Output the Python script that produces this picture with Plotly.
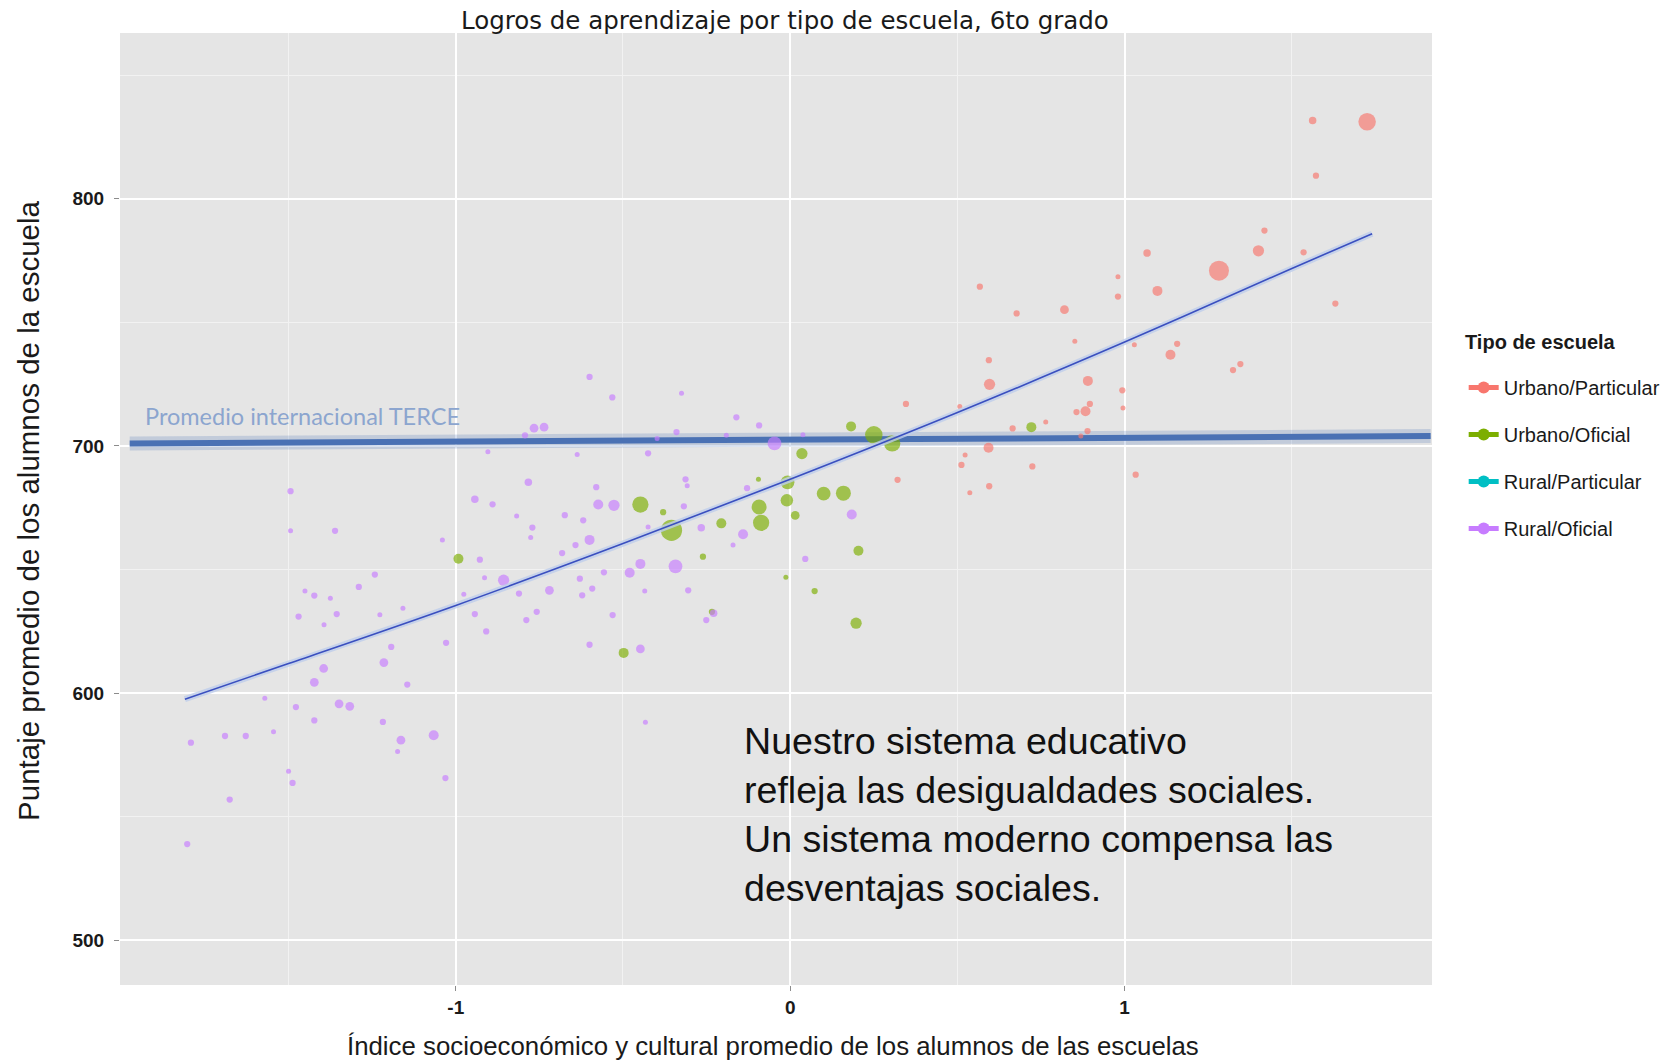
import plotly.graph_objects as go

# ---------------- data ----------------
categories = ["Urbano/Particular", "Urbano/Oficial", "Rural/Particular", "Rural/Oficial"]
cat_colors = ["#F8766D", "#7CAE00", "#00BFC4", "#C77CFF"]

# Urbano/Particular
up_x = [1.562, 1.725, 1.572, 1.418, 1.400, 1.535, 1.067, 1.282, 0.980, 1.098, 0.980, 0.567,
        0.820, 0.677, 1.630, 0.851, 1.029, 1.157, 1.137, 1.346, 1.324, 0.594, 0.596, 0.890,
        0.993, 0.346, 0.507, 0.896, 0.883, 0.856, 0.995, 0.764, 0.665, 0.889, 0.869, 0.593,
        0.523, 0.512, 0.724, 0.321, 0.595, 0.537, 1.033]
up_y = [831.6, 831.1, 809.3, 787.1, 778.9, 778.3, 778.0, 770.9, 768.4, 762.7, 760.4, 764.4,
        755.1, 753.6, 757.6, 742.3, 740.9, 741.3, 736.9, 733.1, 730.7, 734.7, 724.9, 726.3,
        722.5, 717.0, 716.0, 717.0, 714.0, 713.7, 715.3, 709.7, 707.1, 706.0, 704.0, 699.3,
        696.3, 692.3, 691.7, 686.3, 683.7, 681.1, 688.4]
up_n = [6, 14, 5, 5, 9, 5, 6, 16, 4, 8, 5, 5,
        7, 5, 5, 4, 4, 5, 8, 5, 5, 5, 9, 8,
        5, 5, 4, 5, 8, 5, 4, 4, 5, 5, 4, 8,
        4, 5, 5, 5, 5, 4, 5]

# Urbano/Oficial
uo_x = [-0.992, 0.182, 0.250, 0.305, 0.035, -0.008, -0.095, 0.100, 0.159, -0.010, 0.015,
        -0.093, -0.087, -0.206, -0.448, -0.380, -0.355, -0.261, -0.013, 0.073, 0.204, 0.197,
        -0.498, -0.234, 0.721]
uo_y = [654.4, 707.9, 704.5, 701.0, 696.9, 685.3, 686.5, 680.7, 680.9, 678.0, 671.9,
        675.3, 668.9, 668.7, 676.3, 673.2, 665.9, 655.2, 646.9, 641.3, 657.6, 628.3,
        616.3, 632.9, 707.6]
uo_n = [8, 8, 14, 13, 9, 11, 4, 11, 12, 10, 7,
        12, 13, 8, 13, 5, 17, 5, 4, 5, 8, 9,
        8, 5, 8]

# Rural/Particular (no schools shown)
rp_x = []
rp_y = []
rp_n = []

# Rural/Oficial
ro_x = [-0.904, -1.494, -0.943, -0.890, -0.818, -1.494, -1.361, -1.040, -0.928, -0.857,
        -0.914, -1.242, -1.290, -1.451, -1.423, -1.375, -1.470, -1.356, -1.394, -1.227,
        -1.158, -0.976, -0.943, -0.909, -1.029, -1.193, -1.215, -1.395, -1.423, -1.145,
        -1.571, -1.478, -1.349, -1.317, -1.423, -1.218, -1.545, -1.690, -1.628, -1.792,
        -1.164, -1.066, -1.174, -1.500, -1.488, -1.031, -1.676, -1.803,
        -0.600, -0.532, -0.325, -0.161, -0.093, -0.340, -0.766, -0.736, -0.793, -0.398,
        -0.191, 0.038, -0.637, -0.425, -0.047, -0.783, -0.580, -0.313, -0.308, -0.129,
        -0.574, -0.527, -0.318, -0.674, -0.619, -0.771, -0.776, -0.425, -0.266,
        -0.141, -0.171, 0.184, -0.600, -0.642, -0.682, -0.448, -0.343, -0.480, -0.557,
        -0.629, -0.592, -0.720, -0.811, -0.622, -0.305, -0.435, -0.758, -0.789, -0.531,
        -0.229, -0.251, 0.045, -0.600, -0.448, -0.433]
ro_y = [697.7, 681.7, 678.4, 676.4, 671.7, 665.7, 665.7, 662.0, 654.0, 645.7,
        646.7, 648.0, 643.0, 641.3, 639.5, 638.4, 631.0, 632.0, 627.7, 631.7,
        634.4, 640.0, 632.0, 625.0, 620.4, 618.7, 612.4, 610.0, 604.4, 603.5,
        598.0, 594.4, 595.7, 594.7, 589.0, 588.4, 584.4, 582.7, 582.7, 580.0,
        581.0, 583.0, 576.4, 568.4, 563.7, 565.7, 557.0, 539.0,
        727.9, 719.6, 721.3, 711.6, 708.3, 705.6, 707.2, 707.6, 704.3, 703.0,
        704.3, 704.5, 696.5, 697.0, 701.0, 685.3, 683.3, 686.5, 683.9, 682.9,
        676.3, 676.0, 675.6, 672.0, 669.9, 667.0, 663.0, 667.2, 666.9,
        664.3, 659.9, 672.3, 662.0, 659.9, 656.7, 652.3, 651.3, 648.7, 648.9,
        646.3, 642.3, 641.6, 640.3, 639.6, 641.6, 641.3, 632.9, 629.6, 631.6,
        632.3, 629.6, 654.3, 619.6, 617.9, 588.3]
ro_n = [4, 5, 6, 5, 4, 4, 5, 4, 5, 9,
        4, 5, 5, 4, 5, 4, 5, 5, 4, 4,
        4, 4, 5, 5, 5, 5, 7, 7, 7, 5,
        4, 5, 7, 7, 5, 5, 4, 5, 5, 5,
        7, 8, 4, 4, 5, 5, 5, 5,
        5, 5, 4, 5, 5, 5, 7, 7, 5, 4,
        4, 4, 4, 5, 11, 6, 5, 5, 4, 5,
        8, 9, 5, 5, 5, 5, 4, 4, 6,
        8, 4, 8, 8, 5, 5, 8, 11, 8, 5,
        5, 5, 7, 5, 5, 5, 4, 5, 5, 5,
        6, 5, 5, 5, 7, 4]

# loess trend
smooth_x = [-1.81, -1.5, -1.0, -0.5, 0.0, 0.5, 1.0, 1.5, 1.74]
smooth_y = [597.6, 612.0, 635.5, 660.5, 686.5, 713.5, 742.0, 771.8, 785.8]

# international TERCE average line
terce_x = [-1.975, 1.915]
terce_y = [701.0, 704.0]
terce_label = "Promedio internacional TERCE"

x_ticks = [-1, 0, 1]
x_ticktext = ["-1", "0", "1"]
x_minor = [-1.5, -0.5, 0.5, 1.5]
y_ticks = [500, 600, 700, 800]
y_ticktext = ["500", "600", "700", "800"]
y_minor = [550, 650, 750, 850]

title_text = "Logros de aprendizaje por tipo de escuela, 6to grado"
x_title = "Índice socioeconómico y cultural promedio de los alumnos de las escuelas"
y_title = "Puntaje promedio de los alumnos de la escuela"
legend_title = "Tipo de escuela"
note_lines = ["Nuestro sistema educativo",
              "refleja las desigualdades sociales.",
              "Un sistema moderno compensa las",
              "desventajas sociales."]

# ---------------- figure ----------------
W, H = 1677, 1064
L, R, T, B = 120, 232, 33, 79
plot_w = W - L - R
plot_h = H - T - B
SIZE_SCALE = 1.25


def px(sx):
    """window x pixel -> paper x"""
    return (sx - L) / plot_w


def py(sy):
    """window y pixel -> paper y"""
    return (H - B - sy) / plot_h


fig = go.Figure()

# TERCE line (glow + line)
fig.add_trace(go.Scatter(x=terce_x, y=terce_y, mode="lines",
                         line=dict(color="rgba(74,114,181,0.22)", width=14),
                         showlegend=False, hoverinfo="skip"))
fig.add_trace(go.Scatter(x=terce_x, y=terce_y, mode="lines",
                         line=dict(color="#4A71B4", width=6),
                         showlegend=False, hoverinfo="skip"))

series = [(up_x, up_y, up_n, cat_colors[0]),
          (uo_x, uo_y, uo_n, cat_colors[1]),
          (rp_x, rp_y, rp_n, cat_colors[2]),
          (ro_x, ro_y, ro_n, cat_colors[3])]
for (xs, ys, ns, col), name in zip(series, categories):
    fig.add_trace(go.Scatter(x=xs, y=ys, mode="markers", name=name,
                             marker=dict(size=[n * SIZE_SCALE for n in ns], color=col,
                                         opacity=0.66, line=dict(width=0)),
                             showlegend=False))

# smooth trend (band + line)
fig.add_trace(go.Scatter(x=smooth_x, y=smooth_y, mode="lines", line_shape="spline",
                         line=dict(color="rgba(190,205,235,0.8)", width=6),
                         showlegend=False, hoverinfo="skip"))
fig.add_trace(go.Scatter(x=smooth_x, y=smooth_y, mode="lines", line_shape="spline",
                         line=dict(color="#3A4FBF", width=1.6),
                         showlegend=False, hoverinfo="skip"))

# legend entries
for name, col in zip(categories, cat_colors):
    fig.add_trace(go.Scatter(x=[None], y=[None], mode="lines+markers", name=name,
                             legendgroup=name,
                             line=dict(color=col, width=2),
                             marker=dict(color=col, size=7)))

axis_font = dict(family="Liberation Sans", size=19, color="#1a1a1a", weight="bold")

fig.update_layout(
    width=W, height=H,
    margin=dict(l=L, r=R, t=T, b=B),
    paper_bgcolor="white", plot_bgcolor="#E5E5E5",
    hovermode=False,
    title=dict(text=title_text, x=px(791.5), xref="paper", xanchor="center",
               y=1 - 20 / H, yref="container", yanchor="middle",
               font=dict(family="DejaVu Sans", size=24.5, color="#1a1a1a")),
    xaxis=dict(range=[-2.004, 1.919], tickmode="array", tickvals=x_ticks, ticktext=x_ticktext,
               showgrid=True, gridcolor="white", gridwidth=1.6, zeroline=False,
               ticks="outside", ticklen=5, tickcolor="#8c8c8c", tickwidth=1,
               tickfont=axis_font, showline=False,
               minor=dict(tickmode="array", tickvals=x_minor, showgrid=True,
                          gridcolor="#F2F2F2", gridwidth=0.8, ticks="")),
    yaxis=dict(range=[482, 867], tickmode="array", tickvals=y_ticks, ticktext=y_ticktext,
               showgrid=True, gridcolor="white", gridwidth=1.6, zeroline=False,
               ticks="outside", ticklen=5, tickcolor="#8c8c8c", tickwidth=1,
               tickfont=axis_font, ticklabelstandoff=6, showline=False,
               minor=dict(tickmode="array", tickvals=y_minor, showgrid=True,
                          gridcolor="#F2F2F2", gridwidth=0.8, ticks="")),
    legend=dict(x=px(1477), xanchor="left",
                y=py(368), yanchor="top",
                font=dict(family="Liberation Sans", size=20, color="#1a1a1a"),
                tracegroupgap=18, bgcolor="rgba(0,0,0,0)", itemsizing="constant"),
    showlegend=True,
)

fig.add_annotation(text="<b>" + legend_title + "</b>", x=px(1476), y=py(341.7),
                   xref="paper", yref="paper",
                   xanchor="left", yanchor="middle", showarrow=False,
                   font=dict(family="Liberation Sans", size=20, color="#1a1a1a"))
fig.add_annotation(text=terce_label, x=-1.935, y=712.1, xref="x", yref="y",
                   xanchor="left", yanchor="middle", showarrow=False,
                   font=dict(family="Lato", size=23.5, color="#8CA5CF"))
fig.add_annotation(text="<br>".join(note_lines), x=-0.145, y=551, xref="x", yref="y",
                   xanchor="left", yanchor="middle", align="left", showarrow=False,
                   font=dict(family="Liberation Sans", size=37.6, color="#111111"))
fig.add_annotation(text=y_title, x=px(27), y=py(511), xref="paper", yref="paper",
                   xanchor="center", yanchor="middle", textangle=-90, showarrow=False,
                   font=dict(family="Liberation Sans", size=29.5, color="#1a1a1a"))
fig.add_annotation(text=x_title, x=px(779.5), y=py(1046),
                   xref="paper", yref="paper", xanchor="center", yanchor="middle",
                   showarrow=False,
                   font=dict(family="Liberation Sans", size=25.8, color="#1a1a1a"))

# remove the browser's default page margin so the figure fills the window exactly
fig.write_html("out.html",
               config={"displayModeBar": False},
               post_script="document.body.style.margin='0px';"
                           "document.body.style.overflow='hidden';")
